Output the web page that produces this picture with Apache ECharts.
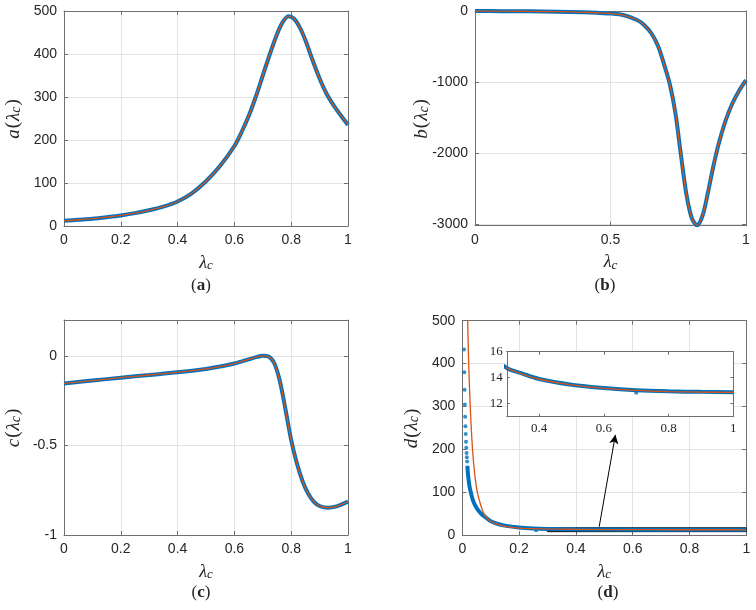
<!DOCTYPE html>
<html><head><meta charset="utf-8">
<script src="https://cdn.jsdelivr.net/npm/echarts@6/dist/echarts.min.js"></script>
<style>html,body{margin:0;padding:0;background:#fff}#c{width:756px;height:610px}</style>
</head><body><div id="c"></div>
<script>
// ---------- data ----------
const aLambda = [0,0.05,0.1,0.15,0.2,0.25,0.3,0.35,0.4,0.45,0.5,0.55,0.6,0.625,0.65,0.675,0.7,0.725,0.75,0.77,0.79,0.81,0.83,0.85,0.875,0.9,0.925,0.95,0.975,1];
const aValues = [12,14.5,17,20.5,24.5,30,36.5,45,57,76,104,140,186,218,255,300,350,400,446,474,488,482,462,432,386,343,307,280,257,235];

const bLambda = [0,0.1,0.2,0.3,0.4,0.45,0.5,0.55,0.6,0.625,0.65,0.675,0.7,0.72,0.74,0.76,0.78,0.8,0.82,0.84,0.86,0.88,0.9,0.925,0.95,0.975,1];
const bValues = [0,-2,-5,-10,-18,-25,-35,-60,-130,-200,-310,-490,-780,-1050,-1450,-2030,-2580,-2920,-3020,-2880,-2550,-2180,-1860,-1540,-1300,-1120,-975];

const cLambda = [0,0.1,0.2,0.3,0.4,0.5,0.55,0.6,0.65,0.68,0.7,0.72,0.74,0.76,0.78,0.8,0.82,0.84,0.86,0.88,0.9,0.93,0.96,0.98,1];
const cValues = [-0.154,-0.138,-0.122,-0.107,-0.092,-0.073,-0.06,-0.043,-0.02,-0.006,0,-0.004,-0.04,-0.14,-0.3,-0.47,-0.6,-0.7,-0.77,-0.815,-0.838,-0.848,-0.84,-0.828,-0.813];

const dRedLambda = [0.016,0.019,0.0225,0.028,0.036,0.045,0.053,0.065,0.075,0.09,0.1,0.11,0.13,0.15,0.2,0.25,0.3,0.35,0.4,0.5,0.6,0.7,0.8,0.9,1];
const dRedValues = [600,500,400,300,200,135,100,70,52,38,33,29,24.5,21,16.8,15.5,14.75,14.25,13.88,13.44,13.18,13.02,12.93,12.89,12.87];

const dBlueLambda = [0.018,0.019,0.022,0.026,0.03,0.035,0.04,0.05,0.06,0.07,0.08,0.1,0.12,0.15,0.2,0.25,0.3,0.35,0.4,0.5,0.6,0.7,0.8,0.9,1];
const dBlueValues = [162,150,130,112,100,87,77,64,55,48,43,33,27.5,22.5,18,15.8,14.75,14.3,13.9,13.46,13.2,13.03,12.95,12.91,12.89];

const dDotLambda = [0.006,0.007,0.008,0.009,0.010,0.011,0.012,0.013,0.014,0.015,0.016,0.017];
const dDotValues = [433,380,339,305,276,254,236,218,204,192,182,172];

const dOutLambda = [0.26, 0.7];
const dOutValues = [11.5, 12.85];

const zoomBoxLambda = [0.3, 1];
const zoomBoxValues = [8.5, 17.5];
const arrowLambda = [0.482, 0.539];
const arrowValues = [20, 234];

const captions = ['a','b','c','d'];

// ---------- helpers ----------
const zip = (xs, ys) => xs.map((x, i) => [x, ys[i]]);
const BLUE = '#0072BD', RED = '#D95319', AXC = '#6f6f6f', TXT = '#262626';
const fmt = v => String(parseFloat((+v).toFixed(6)));

function nameRich(fs) {
  return {
    i: {fontFamily: 'Liberation Serif', fontStyle: 'italic', fontSize: fs, color: TXT},
    n: {fontFamily: 'Liberation Serif', fontSize: fs, color: TXT, padding: [0, 1, 0, 1]},
    s: {fontFamily: 'Liberation Serif', fontStyle: 'italic', fontSize: Math.round(fs * 0.72), color: TXT, verticalAlign: 'bottom', lineHeight: 9}
  };
}

const xAxes = [], yAxes = [];
function axisPair(list, gi, dim, o) {
  const common = {
    gridIndex: gi, type: 'value', min: o.min, max: o.max, interval: o.interval, splitNumber: o.splitNumber,
    axisLine: {show: true, onZero: false, lineStyle: {color: AXC, width: 1}},
    axisTick: {show: true, inside: true, length: o.tickLen || 4, lineStyle: {color: AXC, width: 1}},
    z: o.z || 0, nameMoveOverlap: false
  };
  const fsName = o.nameFs || 18;
  const main = Object.assign({}, common, {
    position: dim === 'x' ? 'bottom' : 'left',
    axisLabel: {show: true, color: TXT, fontSize: o.fs || 14, fontFamily: o.ff || 'Liberation Sans',
      margin: o.margin || 7, formatter: fmt, showMinLabel: o.showMin, showMaxLabel: o.showMax},
    splitLine: {show: !!o.grid, lineStyle: {color: '#e3e3e3', width: 1}},
    name: o.name || '', nameLocation: 'middle', nameGap: o.nameGap || 0,
    nameTextStyle: {rich: nameRich(fsName), fontFamily: 'Liberation Serif', fontSize: fsName, color: TXT}
  });
  const mirror = Object.assign({}, common, {
    position: dim === 'x' ? 'top' : 'right',
    axisLabel: {show: false}, splitLine: {show: false}, name: ''
  });
  const idx = list.length;
  list.push(main, mirror);
  return idx;
}

const grids = [
  {left: 64, top: 11, width: 284, height: 215},
  {left: 475, top: 11, width: 271, height: 214.7},
  {left: 64, top: 320, width: 284, height: 215},
  {left: 462.3, top: 320.7, width: 284, height: 214.6},
  {left: 506.8, top: 351.7, width: 226.5, height: 65, show: true, backgroundColor: '#ffffff', borderWidth: 0, z: 3}
].map(g => Object.assign({outerBoundsMode: 'none', containLabel: false}, g));

const xName = '{i|λ}{s|c}';
const yName = k => '{i|' + k + '}{n|(}{i|λ}{s|c}{n|)}';

// panel a
const xa = axisPair(xAxes, 0, 'x', {min: 0, max: 1, interval: 0.2, grid: true, name: xName, nameGap: 28, nameFs: 18});
const ya = axisPair(yAxes, 0, 'y', {min: 0, max: 500, interval: 100, grid: true, name: yName('a'), nameGap: 41, nameFs: 19});
// panel b
const xb = axisPair(xAxes, 1, 'x', {min: 0, max: 1, interval: 0.5, grid: true, name: xName, nameGap: 28, nameFs: 18});
const yb = axisPair(yAxes, 1, 'y', {min: -3025, max: 0, splitNumber: 3, grid: true, showMin: false, name: yName('b'), nameGap: 44, nameFs: 19});
// panel c
const xc = axisPair(xAxes, 2, 'x', {min: 0, max: 1, interval: 0.2, grid: true, name: xName, nameGap: 28, nameFs: 18});
const yc = axisPair(yAxes, 2, 'y', {min: -1, max: 0.2, interval: 0.5, grid: true, showMax: false, name: yName('c'), nameGap: 41, nameFs: 19});
// panel d
const xd = axisPair(xAxes, 3, 'x', {min: 0, max: 1, interval: 0.2, grid: true, name: xName, nameGap: 28, nameFs: 18});
const yd = axisPair(yAxes, 3, 'y', {min: 0, max: 500, interval: 100, grid: true, name: yName('d'), nameGap: 41, nameFs: 19});
// inset
const xi = axisPair(xAxes, 4, 'x', {min: 0.3, max: 1, splitNumber: 4, showMin: false, ff: 'Liberation Serif', fs: 13, margin: 5, tickLen: 3, z: 4});
const yi = axisPair(yAxes, 4, 'y', {min: 11, max: 16, splitNumber: 3, showMin: false, ff: 'Liberation Serif', fs: 13, margin: 4, tickLen: 3, z: 4});

function lineS(xIdx, yIdx, data, color, width, z) {
  return {type: 'line', xAxisIndex: xIdx, yAxisIndex: yIdx, data, showSymbol: false, symbol: 'none',
    smooth: 0.3, clip: true, lineStyle: {color, width}, itemStyle: {color}, z: z || 2, silent: true, animation: false};
}
function dotS(xIdx, yIdx, data, z) {
  return {type: 'scatter', xAxisIndex: xIdx, yAxisIndex: yIdx, data, symbol: 'circle', symbolSize: 4,
    itemStyle: {color: BLUE}, z: z || 2, silent: true, animation: false, clip: true};
}

const series = [
  lineS(xa, ya, zip(aLambda, aValues), BLUE, 4),
  lineS(xa, ya, zip(aLambda, aValues), RED, 1.3, 3),
  lineS(xb, yb, zip(bLambda, bValues), BLUE, 4),
  lineS(xb, yb, zip(bLambda, bValues), RED, 1.3, 3),
  lineS(xc, yc, zip(cLambda, cValues), BLUE, 4),
  lineS(xc, yc, zip(cLambda, cValues), RED, 1.3, 3),
  Object.assign(lineS(xd, yd, zip(dBlueLambda, dBlueValues), BLUE, 4), {
    markArea: {silent: true, itemStyle: {color: 'rgba(90,90,90,0.35)', borderColor: '#000', borderWidth: 1},
      data: [[{coord: [zoomBoxLambda[0], zoomBoxValues[0]]}, {coord: [zoomBoxLambda[1], zoomBoxValues[1]]}]]},
  }),
  dotS(xd, yd, zip(dDotLambda, dDotValues)),
  dotS(xd, yd, zip(dOutLambda, dOutValues)),
  Object.assign(lineS(xd, yd, zip(dRedLambda, dRedValues), RED, 1.3, 3), {
    markLine: {silent: true, symbol: ['none', 'arrow'], symbolSize: [7, 9], label: {show: false},
      lineStyle: {color: '#000', width: 1, type: 'solid'}, emphasis: {disabled: true},
      data: [[{coord: [arrowLambda[0], arrowValues[0]]}, {coord: [arrowLambda[1], arrowValues[1]]}]]}
  }),
  lineS(xi, yi, zip(dBlueLambda, dBlueValues), BLUE, 4, 6),
  dotS(xi, yi, zip(dOutLambda, dOutValues), 6),
  lineS(xi, yi, zip(dRedLambda, dRedValues), RED, 1.3, 7)
];

const capPos = [[201, 286], [605, 286], [201, 593], [608, 593]];
const graphic = captions.map((c, i) => ({
  type: 'text', x: capPos[i][0], y: capPos[i][1], silent: true,
  style: {text: '{n|(}{b|' + c + '}{n|)}', align: 'center', verticalAlign: 'middle',
    rich: {n: {fontFamily: 'Liberation Serif', fontSize: 17, fill: TXT, color: TXT},
           b: {fontFamily: 'Liberation Serif', fontSize: 17, fontWeight: 'bold', fill: TXT, color: TXT}}}
}));

const chart = echarts.init(document.getElementById('c'), null, {renderer: 'canvas'});
chart.setOption({
  backgroundColor: '#ffffff', animation: false,
  grid: grids, xAxis: xAxes, yAxis: yAxes, series, graphic,
  tooltip: {show: false}
});
</script></body></html>
